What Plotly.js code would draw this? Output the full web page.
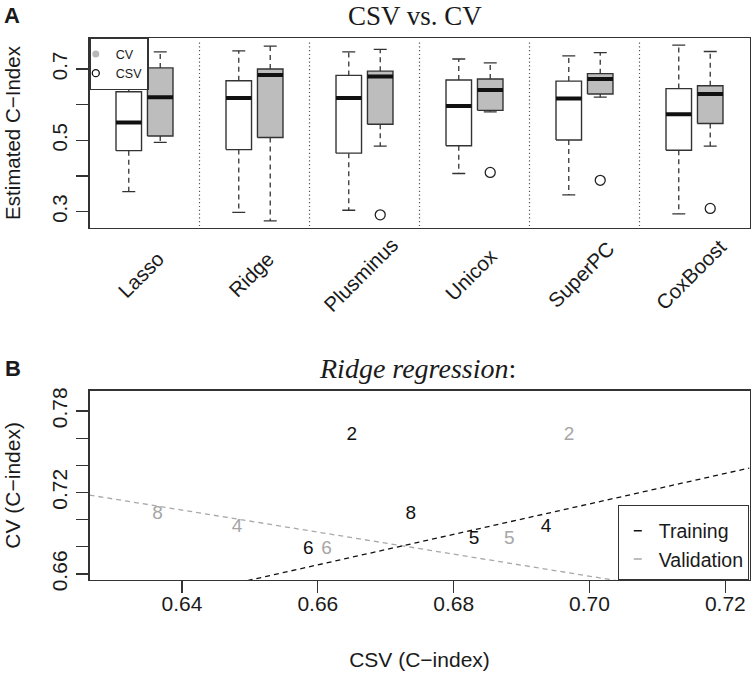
<!DOCTYPE html>
<html><head><meta charset="utf-8">
<script src="https://cdn.plot.ly/plotly-3.0.1.min.js"></script>
<style>html,body{margin:0;padding:0;background:#fff}#chart{width:751px;height:673px}</style>
</head><body><div id="chart"></div>
<script>
// ---------- Panel A data: estimated C-index per method ----------
const methods = ['Lasso', 'Ridge', 'Plusminus', 'Unicox', 'SuperPC', 'CoxBoost'];
// CSV (white boxes)
const csvLower  = [0.356, 0.298, 0.304, 0.407, 0.347, 0.294];
const csvQ1     = [0.471, 0.474, 0.464, 0.485, 0.501, 0.472];
const csvMedian = [0.550, 0.619, 0.619, 0.596, 0.617, 0.573];
const csvQ3     = [0.636, 0.667, 0.682, 0.669, 0.666, 0.645];
const csvUpper  = [0.690, 0.751, 0.748, 0.728, 0.737, 0.767];
// CV (grey boxes)
const cvLower  = [0.494, 0.274, 0.484, 0.580, 0.621, 0.484];
const cvQ1     = [0.512, 0.508, 0.545, 0.584, 0.630, 0.547];
const cvMedian = [0.621, 0.683, 0.679, 0.641, 0.672, 0.630];
const cvQ3     = [0.703, 0.700, 0.694, 0.672, 0.687, 0.653];
const cvUpper  = [0.748, 0.764, 0.755, 0.717, 0.746, 0.749];
const cvOutlierMethod = ['Plusminus', 'Unicox', 'SuperPC', 'CoxBoost'];
const cvOutlierValue  = [0.291, 0.410, 0.388, 0.309];
const yTicksA = [0.3, 0.4, 0.5, 0.6, 0.7];
const yTickTextA = ['0.3', '', '0.5', '', '0.7'];

// ---------- Panel B data: Ridge regression, CSV vs CV ----------
const trainLabels = ['2', '8', '5', '4', '6'];
const trainCSV = [0.6650, 0.6737, 0.6830, 0.6936, 0.6586];
const trainCV  = [0.7618, 0.7042, 0.6855, 0.6941, 0.6784];
const validLabels = ['2', '8', '5', '4', '6'];
const validCSV = [0.6970, 0.6364, 0.6882, 0.6481, 0.6613];
const validCV  = [0.7618, 0.7042, 0.6855, 0.6944, 0.6784];
const trainFit = [-0.0731, 1.121];   // intercept, slope
const validFit = [1.2261, -0.811];   // intercept, slope
const xTicksB = [0.64, 0.66, 0.68, 0.70, 0.72];
const xTickTextB = ['0.64', '0.66', '0.68', '0.70', '0.72'];
const yTicksB = [0.66, 0.68, 0.70, 0.72, 0.74, 0.76, 0.78];
const yTickTextB = ['0.66', '', '', '0.72', '', '', '0.78'];

// ---------- layout helpers ----------
const W = 751, H = 673;
const PX = v => v / W, PY = v => 1 - v / H;
const xDom = [PX(89.5), PX(749.5)];
const xRangeB = [0.62638, 0.72356];
const OFF = 0.143, HALF = 0.116, CAP = 0.059;
const SANS = 'Liberation Sans, Arial, sans-serif';
const SERIF = 'Liberation Serif, Times New Roman, serif';
const INK = '#1a1a1a', EDGE = '#333333';

function boxParts(off, lower, q1, med, q3, upper) {
  const bx = [], by = [], mx = [], my = [], wx = [], wy = [], cx = [], cy = [];
  methods.forEach((m, i) => {
    const c = i + 1 + off;
    bx.push(c - HALF, c + HALF, c + HALF, c - HALF, c - HALF, null);
    by.push(q1[i], q1[i], q3[i], q3[i], q1[i], null);
    mx.push(c - HALF, c + HALF, null); my.push(med[i], med[i], null);
    wx.push(c, c, null, c, c, null); wy.push(q3[i], upper[i], null, q1[i], lower[i], null);
    cx.push(c - CAP, c + CAP, null, c - CAP, c + CAP, null);
    cy.push(upper[i], upper[i], null, lower[i], lower[i], null);
  });
  return {bx, by, mx, my, wx, wy, cx, cy};
}
const base = {xaxis: 'x', yaxis: 'y', showlegend: false, hoverinfo: 'skip', type: 'scatter'};
function boxTraces(p, fill) {
  return [
    Object.assign({}, base, {x: p.wx, y: p.wy, mode: 'lines', line: {color: EDGE, width: 1.3, dash: '5px,4px'}}),
    Object.assign({}, base, {x: p.cx, y: p.cy, mode: 'lines', line: {color: EDGE, width: 1.3}}),
    Object.assign({}, base, {x: p.bx, y: p.by, mode: 'lines', fill: 'toself', fillcolor: fill, line: {color: EDGE, width: 1.4}}),
    Object.assign({}, base, {x: p.mx, y: p.my, mode: 'lines', line: {color: '#111', width: 4}})
  ];
}
const csvParts = boxParts(-OFF, csvLower, csvQ1, csvMedian, csvQ3, csvUpper);
const cvParts = boxParts(OFF, cvLower, cvQ1, cvMedian, cvQ3, cvUpper);

const traces = [].concat(
  boxTraces(csvParts, '#ffffff'),
  boxTraces(cvParts, '#bdbdbd'),
  [Object.assign({}, base, {
    x: cvOutlierMethod.map(m => methods.indexOf(m) + 1 + OFF), y: cvOutlierValue,
    mode: 'markers', marker: {symbol: 'circle-open', size: 10, color: '#222', line: {width: 1.3}}
  })],
  [
    {type: 'scatter', x: [null], y: [null], xaxis: 'x', yaxis: 'y', name: 'CV', mode: 'markers',
     marker: {symbol: 'circle', size: 7, color: '#b8b8b8'}, legend: 'legend', hoverinfo: 'skip'},
    {type: 'scatter', x: [null], y: [null], xaxis: 'x', yaxis: 'y', name: 'CSV', mode: 'markers',
     marker: {symbol: 'circle-open', size: 7, color: '#111', line: {width: 1.3}}, legend: 'legend', hoverinfo: 'skip'}
  ]
);

// Panel B
const baseB = {xaxis: 'x2', yaxis: 'y2', showlegend: false, hoverinfo: 'skip', type: 'scatter'};
traces.push(
  Object.assign({}, baseB, {x: xRangeB, y: xRangeB.map(v => validFit[0] + validFit[1] * v), mode: 'lines',
    line: {color: '#a8a8a8', width: 1.3, dash: '5px,4px'}}),
  Object.assign({}, baseB, {x: xRangeB, y: xRangeB.map(v => trainFit[0] + trainFit[1] * v), mode: 'lines',
    line: {color: '#111', width: 1.3, dash: '5px,4px'}}),
  Object.assign({}, baseB, {x: trainCSV, y: trainCV, text: trainLabels, mode: 'text',
    textfont: {family: SANS, size: 19, color: '#111'}, textposition: 'middle center'}),
  Object.assign({}, baseB, {x: validCSV, y: validCV, text: validLabels, mode: 'text',
    textfont: {family: SANS, size: 19, color: '#a6a6a6'}, textposition: 'middle center'}),
  {type: 'scatter', x: [null], y: [null], xaxis: 'x2', yaxis: 'y2', name: 'Training', mode: 'lines',
   line: {color: '#111', width: 1.5, dash: '0px,10px,8px,40px'}, legend: 'legend2', hoverinfo: 'skip'},
  {type: 'scatter', x: [null], y: [null], xaxis: 'x2', yaxis: 'y2', name: 'Validation', mode: 'lines',
   line: {color: '#a8a8a8', width: 1.5, dash: '0px,10px,8px,40px'}, legend: 'legend2', hoverinfo: 'skip'}
);

const axisCommon = {showline: true, mirror: true, linecolor: EDGE, linewidth: 1.3, showgrid: false,
  zeroline: false, fixedrange: true};
const shapes = methods.slice(1).map((m, i) => ({
  type: 'line', xref: 'x', yref: 'y domain', x0: i + 1.5, x1: i + 1.5, y0: 0.01, y1: 0.99,
  line: {color: '#555', width: 1.2, dash: '1.2px,2.6px'}, layer: 'below'
}));

const annotations = [
  {text: 'CSV vs. CV', xref: 'paper', yref: 'paper', x: PX(415), y: 1, xanchor: 'center', yanchor: 'top',
   showarrow: false, borderpad: 0, font: {family: SERIF, size: 27, color: INK}},
  {text: '<i>Ridge regression</i>:', xref: 'paper', yref: 'paper', x: PX(417.5), y: PY(368.3), xanchor: 'center',
   yanchor: 'middle', showarrow: false, font: {family: SERIF, size: 28, color: INK}},
  {text: '<b>A</b>', xref: 'paper', yref: 'paper', x: PX(11.7), y: PY(15), xanchor: 'center', yanchor: 'middle',
   showarrow: false, font: {family: SANS, size: 22, color: INK}},
  {text: '<b>B</b>', xref: 'paper', yref: 'paper', x: PX(12.5), y: PY(368.3), xanchor: 'center', yanchor: 'middle',
   showarrow: false, font: {family: SANS, size: 22, color: INK}}
].concat(methods.map((m, i) => ({
  text: m, xref: 'x', yref: 'paper', x: i + 1 - 0.035, y: PY(274), xanchor: 'center', yanchor: 'middle',
  textangle: -45, showarrow: false, font: {family: SANS, size: 20.5, color: INK}
})));

const layout = {
  width: W, height: H, margin: {l: 0, r: 0, t: 0, b: 0}, paper_bgcolor: '#fff', plot_bgcolor: 'rgba(0,0,0,0)',
  font: {family: SANS, color: INK},
  xaxis: Object.assign({}, axisCommon, {domain: xDom, range: [0.5, 6.5], anchor: 'y', ticks: '', showticklabels: false}),
  yaxis: Object.assign({}, axisCommon, {domain: [PY(228), PY(38)], range: [0.2542, 0.7869], anchor: 'x',
    tickmode: 'array', tickvals: yTicksA, ticktext: yTickTextA, ticks: 'outside', ticklen: 12, tickwidth: 1.2,
    tickcolor: EDGE, tickangle: -90, tickfont: {size: 20.5, color: INK}, ticklabelstandoff: 1,
    title: {text: 'Estimated C\u2212Index', font: {size: 20.5, color: INK}, standoff: 21}}),
  xaxis2: Object.assign({}, axisCommon, {domain: xDom, range: xRangeB, anchor: 'y2',
    tickmode: 'array', tickvals: xTicksB, ticktext: xTickTextB, ticks: 'outside', ticklen: 12, tickwidth: 1.2,
    tickcolor: EDGE, tickfont: {size: 21, color: INK}, ticklabelstandoff: -8,
    title: {text: 'CSV (C\u2212index)', font: {size: 21, color: INK}, standoff: 38}}),
  yaxis2: Object.assign({}, axisCommon, {domain: [PY(580), PY(390.7)], range: [0.6556, 0.7949], anchor: 'x2',
    tickmode: 'array', tickvals: yTicksB, ticktext: yTickTextB, ticks: 'outside', ticklen: 12, tickwidth: 1.2,
    tickcolor: EDGE, tickangle: -90, tickfont: {size: 21, color: INK}, ticklabelstandoff: 1,
    title: {text: 'CV (C\u2212index)', font: {size: 21, color: INK}, standoff: 21}}),
  legend: {x: PX(89.5), y: PY(38), xanchor: 'left', yanchor: 'top', bgcolor: '#fff', bordercolor: EDGE,
    borderwidth: 1.3, font: {size: 12.5, color: INK}, indentation: -15, tracegroupgap: 0},
  legend2: {x: PX(749.5), y: PY(580), xanchor: 'right', yanchor: 'bottom', bgcolor: '#fff', bordercolor: EDGE,
    borderwidth: 1.3, font: {size: 19.5, color: INK}, tracegroupgap: 0,
    title: {text: '\u00a0', font: {size: 4}}},
  shapes: shapes,
  annotations: annotations,
  showlegend: true
};
Plotly.newPlot('chart', traces, layout, {staticPlot: true, displayModeBar: false});
</script></body></html>
